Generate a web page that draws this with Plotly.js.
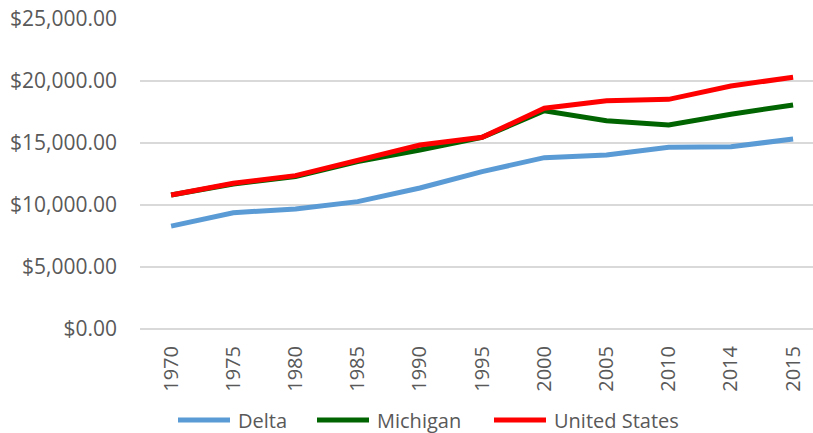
<!DOCTYPE html>
<html>
<head>
<meta charset="utf-8">
<script src="https://cdn.plot.ly/plotly-3.0.1.min.js"></script>
<style>html,body{margin:0;padding:0;background:#fff;}#chart{width:813px;height:433px;}</style>
</head>
<body>
<div id="chart"></div>
<script>
var years = ["1970","1975","1980","1985","1990","1995","2000","2005","2010","2014","2015"];
var delta = [8300, 9380, 9680, 10270, 11370, 12690, 13820, 14030, 14650, 14700, 15320];
var michigan = [10800, 11700, 12300, 13500, 14440, 15450, 17600, 16800, 16450, 17320, 18070];
var unitedStates = [10810, 11750, 12370, 13630, 14840, 15460, 17800, 18410, 18520, 19600, 20300];
var seriesNames = ["Delta", "Michigan", "United States"];
var seriesColors = ["#5B9BD5", "#006400", "#FF0000"];
var yTicks = [0, 5000, 10000, 15000, 20000, 25000];
var yTickLabels = ["$0.00", "$5,000.00", "$10,000.00", "$15,000.00", "$20,000.00", "$25,000.00"];

var font = "Open Sans, Liberation Sans, Arial, sans-serif";
var W = 813, H = 433, L = 140, R = 0, T = 19, B = 104;
var pw = W - L - R, ph = H - T - B;
function px(x) { return (x - L) / pw; }
function py(y) { return (H - B - y) / ph; }

var values = [delta, michigan, unitedStates];
var data = values.map(function (v, i) {
  return {x: years, y: v, name: seriesNames[i], type: 'scatter', mode: 'lines',
          line: {color: seriesColors[i], width: 5}, hoverinfo: 'skip', showlegend: false};
});

// Custom legend (Excel style: long line sample, then text)
var legendLineStart = [176, 315, 492];
var legendLineLen = 56, legendY = 420;
var shapes = [], annotations = [];
seriesNames.forEach(function (n, i) {
  var x0 = legendLineStart[i];
  shapes.push({type: 'line', xref: 'paper', yref: 'paper',
               x0: px(x0 + 2), x1: px(x0 + legendLineLen - 2), y0: py(legendY), y1: py(legendY),
               line: {color: seriesColors[i], width: 5}});
  annotations.push({xref: 'paper', yref: 'paper', x: px(x0 + legendLineLen + 4), y: py(legendY),
                    xanchor: 'left', yanchor: 'middle', text: n, showarrow: false,
                    font: {family: font, size: 20, color: '#595959'}});
});

var layout = {
  width: W, height: H,
  margin: {l: L, r: R, t: T, b: B},
  paper_bgcolor: '#fff', plot_bgcolor: '#fff',
  font: {family: font, size: 20, color: '#595959'},
  showlegend: false,
  shapes: shapes, annotations: annotations,
  xaxis: {type: 'category', range: [-0.5, 10.32], showgrid: false, zeroline: false,
          showline: false, ticks: '', tickangle: -90, ticklabelstandoff: 12, automargin: false,
          tickfont: {family: font, size: 20, color: '#595959'}, fixedrange: true},
  yaxis: {range: [0, 25000], tickvals: yTicks, ticktext: yTickLabels, showgrid: true, automargin: false,
          gridcolor: '#D9D9D9', gridwidth: 1.5, zeroline: true, zerolinecolor: '#D9D9D9', zerolinewidth: 1.5,
          showline: false, ticks: '', ticklabelstandoff: 22,
          tickfont: {family: font, size: 21, color: '#595959'}, fixedrange: true}
};
Plotly.newPlot('chart', data, layout, {displayModeBar: false, staticPlot: true});
</script>
</body>
</html>
